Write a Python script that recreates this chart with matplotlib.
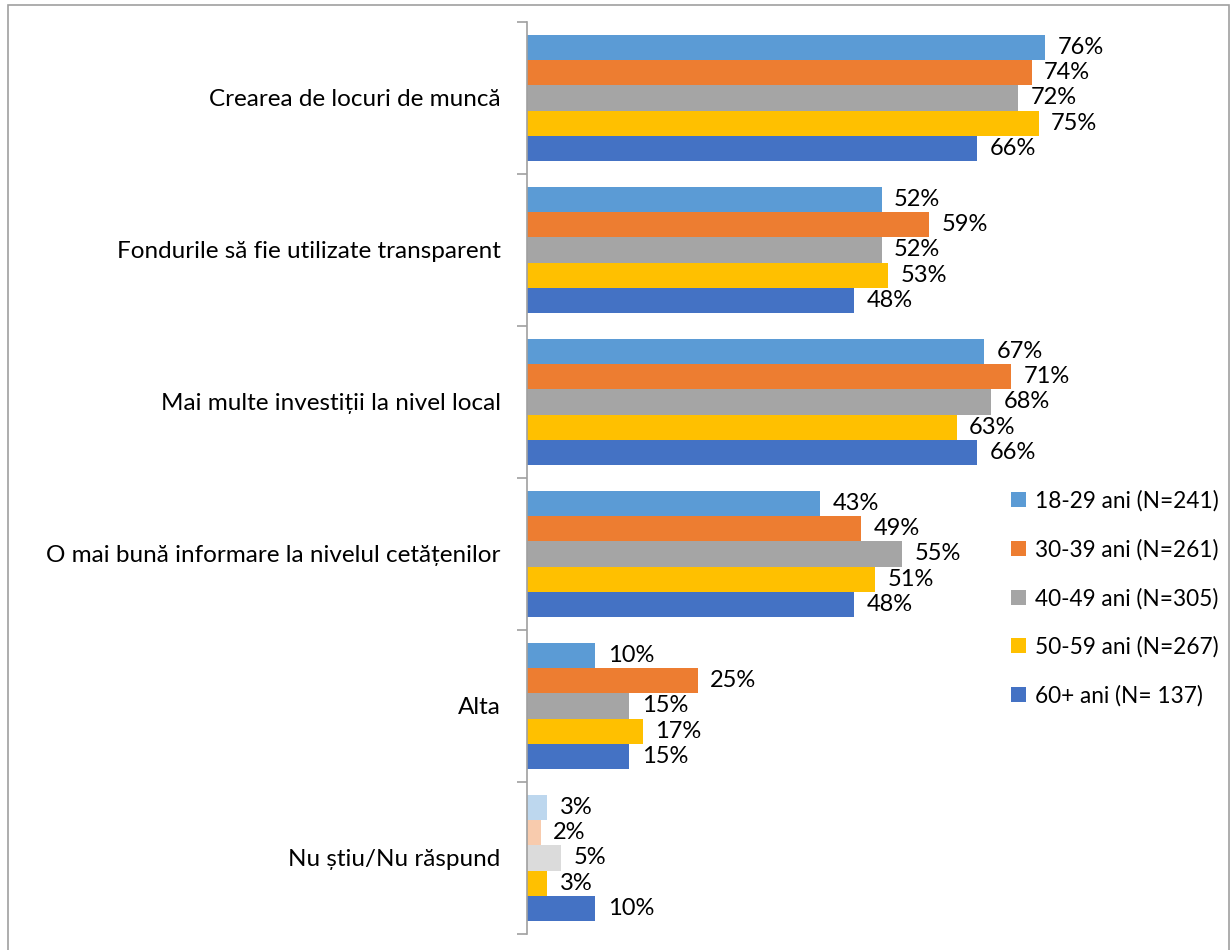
import numpy as np
import matplotlib
matplotlib.use('Agg')
import matplotlib.pyplot as plt
from matplotlib.patches import Rectangle

categories = [
    "Crearea de locuri de muncă",
    "Fondurile să fie utilizate transparent",
    "Mai multe investiții la nivel local",
    "O mai bună informare la nivelul cetățenilor",
    "Alta",
    "Nu știu/Nu răspund",
]
series_labels = [
    "18-29 ani (N=241)",
    "30-39 ani (N=261)",
    "40-49 ani (N=305)",
    "50-59 ani (N=267)",
    "60+ ani (N= 137)",
]
values = [
    [76, 52, 67, 43, 10, 3],
    [74, 59, 71, 49, 25, 2],
    [72, 52, 68, 55, 15, 5],
    [75, 53, 63, 51, 17, 3],
    [66, 48, 66, 48, 15, 10],
]
colors = ["#5B9BD5", "#ED7D31", "#A5A5A5", "#FFC000", "#4472C4"]
# the last category uses paler shades for the first three groups
last_colors = ["#BDD7EE", "#F8CBAD", "#DBDBDB", "#FFC000", "#4472C4"]

plt.rcParams['font.family'] = ['Lato', 'DejaVu Sans']

fig = plt.figure(figsize=(12.32, 9.5), dpi=100)
ax = fig.add_axes([527 / 1232, 1 - 934 / 950, (1232 - 527) / 1232, 912 / 950])

n_cat = len(categories)
n_ser = len(series_labels)
bar_h = 1 / (n_ser + 1)

for i, (vals, label) in enumerate(zip(values, series_labels)):
    y = np.arange(n_cat) + (i - (n_ser - 1) / 2) * bar_h
    cols = [colors[i]] * (n_cat - 1) + [last_colors[i]]
    ax.barh(y, vals, bar_h, color=cols, label=label)
    for yy, v in zip(y, vals):
        ax.annotate(f"{v}%", (v, yy), xytext=(9, 0), textcoords="offset points",
                    va="center", ha="left", fontsize=17, color="#000000")

ax.set_ylim(n_cat - 0.5, -0.5)
ax.set_xlim(0, (1232 - 527) / 6.82)

ax.set_yticks(np.arange(n_cat))
ax.set_yticklabels(categories, fontsize=17.5)
ax.tick_params(axis="y", which="major", length=0, pad=19)
ax.set_yticks(np.arange(n_cat + 1) - 0.5, minor=True)
ax.tick_params(axis="y", which="minor", length=7, width=1.2, color="#A0A0A0")
ax.set_xticks([])

for s in ["top", "right", "bottom"]:
    ax.spines[s].set_visible(False)
ax.spines["left"].set_color("#A0A0A0")
ax.spines["left"].set_linewidth(1.2)

leg = ax.legend(loc="upper left", bbox_to_anchor=((1000 - 527) / (1232 - 527), 1 - (479 - 22) / 912),
                frameon=False, fontsize=16.3, handlelength=0.65, handleheight=0.65,
                handletextpad=0.4, labelspacing=1.2, borderpad=0)

fig.patches.append(Rectangle((8 / 1232, -0.01), 1221 / 1232, 1 - 5 / 950 + 0.01,
                             transform=fig.transFigure, fill=False,
                             edgecolor="#A0A0A0", linewidth=1.2))

fig.savefig("out.png", dpi=100)
